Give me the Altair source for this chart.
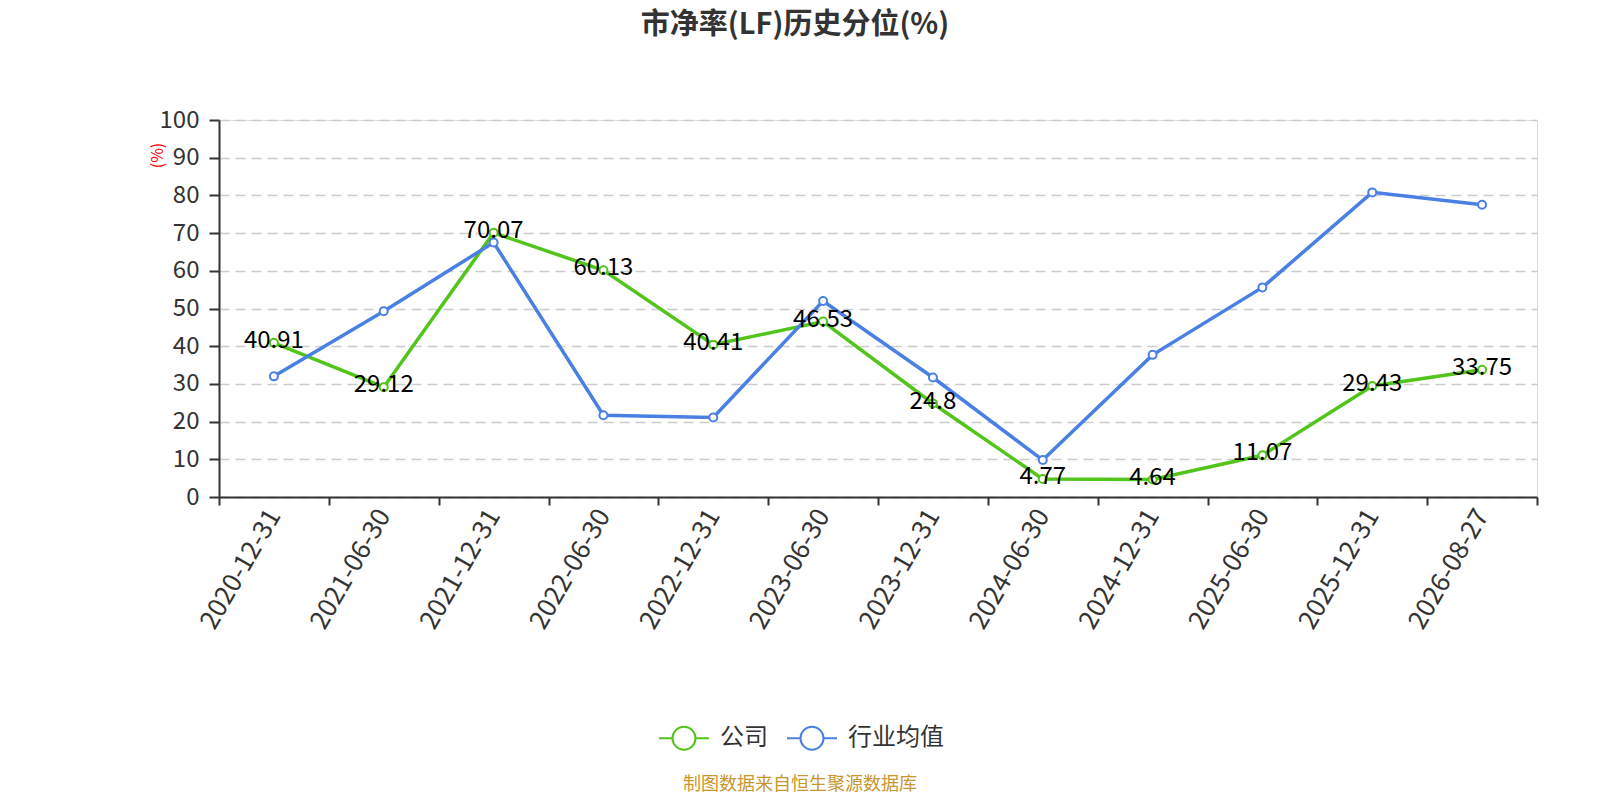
import altair as alt
import pandas as pd

DATES = ["2020-12-31", "2021-06-30", "2021-12-31", "2022-06-30", "2022-12-31", "2023-06-30",
         "2023-12-31", "2024-06-30", "2024-12-31", "2025-06-30", "2025-12-31", "2026-08-27"]
COMPANY = [40.91, 29.12, 70.07, 60.13, 40.41, 46.53, 24.8, 4.77, 4.64, 11.07, 29.43, 33.75]
INDUSTRY = [32.0, 49.3, 67.5, 21.7, 21.1, 52.0, 31.7, 9.8, 37.7, 55.6, 80.8, 77.5]
SERIES = ["公司", "行业均值"]
COLORS = ["#52c41a", "#4a80e3"]
Y_TICKS = list(range(0, 101, 10))
TITLE = "市净率(LF)历史分位(%)"
Y_UNIT = "(%)"
SOURCE = "制图数据来自恒生聚源数据库"

FONT = "Noto Sans CJK SC"

df = pd.DataFrame({
    "date": DATES * 2,
    "series": [SERIES[0]] * len(DATES) + [SERIES[1]] * len(DATES),
    "value": COMPANY + INDUSTRY,
})
df["label"] = [str(v) for v in COMPANY] + [""] * len(DATES)

LEGEND_PATH = ("M-1,0L-0.46,0M0.46,0L1,0M0.46,0"
               "A0.46,0.46,0,1,1,-0.46,0A0.46,0.46,0,1,1,0.46,0Z")

x = alt.X(
    "date:N", sort=DATES, bandPosition=0.5,
    scale=alt.Scale(type="band", paddingInner=0, paddingOuter=0),
    axis=alt.Axis(
        title=None, labelAngle=-60, labelAlign="right", labelBaseline="middle",
        labelFontSize=26, labelFont=FONT, labelColor="#333", labelPadding=6,
        tickBand="extent", tickSize=8, tickColor="#333", tickWidth=2,
        domainColor="#333", domainWidth=2, grid=False, labelOverlap=False,
    ),
)
y = alt.Y(
    "value:Q", scale=alt.Scale(domain=[0, 100], nice=False, zero=True),
    axis=alt.Axis(
        title=Y_UNIT, titleColor="red", titleFontSize=16, titleFont=FONT,
        titleFontWeight="normal", titleX=-62, titleY=35, titleAlign="center",
        titleBaseline="middle", values=Y_TICKS, labelFontSize=24, labelFont=FONT,
        labelColor="#333", labelPadding=10, tickSize=10, tickColor="#333", tickWidth=2,
        domainColor="#333", domainWidth=2, grid=True, gridDash=[10, 6],
        gridColor="#cccccc", gridWidth=1.5,
    ),
)

base = alt.Chart(df).encode(x=x, y=y)

lines = base.mark_line(
    strokeWidth=3.5,
    point=alt.OverlayMarkDef(filled=False, fill="white", size=64, strokeWidth=2, opacity=1),
).encode(
    color=alt.Color(
        "series:N",
        scale=alt.Scale(domain=SERIES, range=COLORS),
        legend=alt.Legend(
            title=None, orient="none", legendX=439, legendY=592, direction="horizontal",
            symbolType=LEGEND_PATH, symbolSize=2500, symbolStrokeWidth=2,
            symbolFillColor="white", labelFontSize=24, labelFont=FONT,
            labelColor="#333", labelOffset=10, columnPadding=15, padding=0,
        ),
    ),
)

labels = base.transform_filter(alt.datum.series == SERIES[0]).mark_text(
    fontSize=24, font=FONT, color="black", baseline="middle", dy=-2,
).encode(text="label:N")

source = alt.Chart(pd.DataFrame({"s": [SOURCE]})).mark_text(
    fontSize=18, font=FONT, color="#c9962e", align="center", baseline="middle",
).encode(text="s:N", x=alt.value(581), y=alt.value(665))

chart = alt.layer(lines, labels, source).properties(
    width=1318,
    height=377,
    autosize=alt.AutoSizeParams(type="none"),
    padding={"left": 211, "top": 112, "right": 55, "bottom": 300},
    title=alt.TitleParams(
        text=TITLE, fontSize=29, font=FONT, fontWeight="bold", color="#333",
        anchor="middle", dx=-83, offset=68,
    ),
).configure_view(stroke=None).configure(background="white")

chart.save("out.html", embed_options={"renderer": "svg", "actions": False})
